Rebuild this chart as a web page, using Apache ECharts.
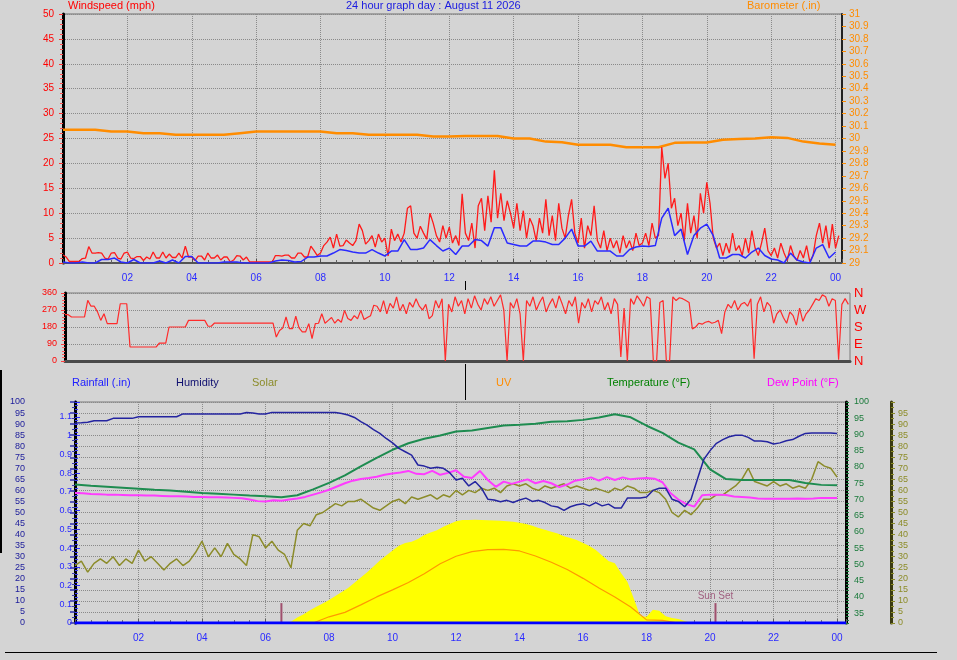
<!DOCTYPE html>
<html><head><meta charset="utf-8">
<script src="https://cdn.jsdelivr.net/npm/echarts/dist/echarts.min.js"></script>
<style>html,body{margin:0;padding:0;background:#d4d4d4;}#c{width:957px;height:660px;}</style>
</head><body><div id="c"></div>
<script>
// ---------- DATA ----------
// Top panel: wind speed (mph) and barometer (.in)
const gustStep = 0.1;
const windGust = [
 1.6,1.2,0.3,0.3,0.3,0.3,0.9,1.0,3.3,2.0,
 2.0,2.1,2.0,1.0,0.8,2.0,2.1,1.0,0.8,2.0,
 2.2,1.0,0.9,1.3,1.3,0.5,1.2,0.8,2.2,1.0,
 1.0,2.2,1.0,1.8,1.1,1.1,2.0,1.0,3.4,1.2,
 1.2,0.5,1.4,1.4,0.6,2.0,1.0,1.0,1.6,0.6,
 1.2,1.2,0.2,0.6,1.5,1.4,0.6,1.2,0.2,0.2,
 0.2,0.2,0.2,0.2,0.2,0.2,1.5,1.5,1.4,1.6,
 1.6,1.0,1.0,2.0,2.0,1.2,1.2,3.4,2.5,1.5,
 2.0,3.5,4.2,5.2,3.0,5.8,3.4,3.5,4.6,4.0,
 3.5,4.5,7.8,6.5,3.8,4.5,5.5,3.2,5.8,4.2,
 5.0,1.4,6.8,4.5,5.8,4.2,6.0,11.0,11.5,6.0,
 5.0,7.4,6.0,4.8,10.0,8.0,5.5,4.2,7.5,5.0,
 7.2,4.0,5.5,3.5,13.9,6.0,4.5,8.0,3.0,11.5,
 13.0,6.5,13.5,8.2,18.6,9.0,14.0,8.5,12.5,10.0,
 7.0,12.0,6.5,10.5,5.0,9.0,7.5,4.5,9.0,6.0,
 12.8,5.5,9.5,4.5,12.0,7.0,5.0,9.5,12.8,6.0,
 4.0,9.0,3.0,7.5,5.5,11.5,4.5,3.0,6.5,2.5,
 5.0,3.0,4.5,2.0,5.5,3.0,4.5,2.5,6.0,3.5,
 4.0,6.0,3.5,8.0,5.0,5.5,23.3,17.0,20.0,11.0,
 13.0,7.5,10.0,4.5,12.0,6.0,9.5,5.0,14.0,10.0,
 16.2,12.0,5.0,3.0,4.0,1.5,4.0,2.0,6.0,2.5,
 3.5,1.5,5.0,2.0,6.5,3.0,1.5,4.0,7.0,2.5,
 1.5,3.0,1.0,4.0,2.0,0.5,3.5,1.5,0.5,2.5,
 1.0,3.5,0.3,1.5,5.5,8.0,4.0,7.5,3.0,7.8,
 3.0,5.5
];
const avgStep = 0.2;
const windAvg = [
 0.2,0.0,0.0,0.2,0.0,0.0,0.7,0.7,1.0,0.2,
 0.0,0.7,0.0,0.0,0.0,0.4,0.0,0.6,0.0,1.3,
 1.3,0.0,0.0,0.0,0.0,0.2,0.2,0.2,0.0,0.0,
 0.0,0.0,0.0,0.4,0.6,0.5,0.2,0.3,1.2,1.2,
 1.4,1.4,2.0,2.7,2.5,2.2,2.0,2.0,2.7,2.0,
 1.4,2.4,2.4,4.7,2.7,2.7,3.0,4.7,3.5,2.4,
 3.0,1.7,3.4,3.4,4.7,4.5,3.4,7.1,7.1,4.0,
 3.7,3.4,3.4,4.4,4.4,4.2,3.7,3.7,5.0,6.8,
 3.4,3.4,4.4,2.4,2.4,2.4,1.4,1.4,2.7,3.2,
 3.4,3.3,3.5,9.0,11.0,5.5,6.8,1.7,5.5,7.0,
 7.8,5.5,1.0,1.0,1.7,1.7,1.0,2.2,3.0,1.5,
 0.8,0.6,0.0,2.0,0.6,0.2,0.0,3.0,3.7,1.0,
 2.2
];
const baroStep = 0.5;
const barometer = [
 30.07,30.07,30.07,30.056,30.056,30.043,30.043,30.03,30.03,30.03,
 30.03,30.043,30.056,30.056,30.056,30.056,30.056,30.043,30.043,30.03,
 30.03,30.03,30.03,30.016,30.016,30.02,30.02,30.02,30.0,30.0,
 29.975,29.97,29.95,29.95,29.95,29.93,29.93,29.93,29.965,29.968,
 29.968,29.99,29.995,30.0,30.01,30.005,29.975,29.96,29.95
];
// Middle panel: wind direction (degrees)
const dirStep = 0.1;
const windDir = [
 245,245,233,233,233,233,233,321,290,290,
 260,215,250,198,198,198,198,303,303,303,
 74,74,74,74,74,74,74,74,74,95,
 95,95,180,180,180,180,180,180,215,215,
 215,215,215,215,184,184,201,201,201,201,
 201,201,201,201,201,201,201,201,201,201,
 201,201,201,201,201,127,162,175,233,171,
 171,237,175,154,154,198,118,198,200,250,
 200,215,230,200,220,205,268,225,215,240,
 224,268,220,230,240,295,290,260,320,250,
 305,280,339,265,300,250,310,285,330,290,
 270,300,224,240,320,280,330,0,300,260,
 340,290,320,250,330,280,345,300,270,330,
 300,340,290,320,350,270,0,310,280,330,
 250,0,320,290,340,270,310,340,260,300,
 330,280,345,300,250,320,290,340,200,310,
 280,330,260,320,300,340,270,310,250,330,
 300,21,280,0,330,300,345,320,290,340,
 330,0,0,310,320,0,0,340,320,335,
 330,320,310,170,180,200,195,205,210,200,
 205,215,145,260,300,280,320,270,300,310,
 290,330,12,300,340,260,310,290,200,250,
 270,230,200,260,240,190,280,210,250,270,
 300,330,320,350,340,290,330,320,7,300,
 330,300
];
const compassLabels = {0:'N', 90:'E', 180:'S', 270:'W', 360:'N'};
// Bottom panel
const humStep = 0.2;
const humidity = [
 90.5,90.6,90.8,91.5,91.5, 91.5,92.6,92.6,92.6,92.6,
 93.3,93.3,93.3,93.3,93.3, 93.3,93.3,94.6,94.6,94.6,
 94.6,94.6,94.6,94.6,94.6, 94.6,94.6,95.2,95.0,94.6,
 94.6,95.3,95.3,95.3,95.3, 95.3,95.3,95.3,95.3,95.3,
 95.3,95.3,94.8,94.1,93.0, 91.1,89.5,87.5,85.8,83.5,
 81.5,79.0,77.5,76.0,71.5, 71.0,70.0,70.5,70.0,68.0,
 64.7,65.5,62.0,64.0,61.0, 56.0,55.7,54.9,55.5,54.5,
 55.7,56.5,55.0,55.5,54.5, 53.0,52.5,51.0,52.6,53.5,
 54.0,53.0,54.5,53.0,53.8, 52.0,52.0,56.6,56.6,56.6,
 57.0,60.0,61.0,61.0,56.0, 55.0,52.6,56.0,65.0,74.0,
 78.0,81.3,83.0,84.3,85.0, 85.0,84.0,82.3,82.3,82.0,
 81.0,81.5,82.5,83.0,84.5, 85.8,86.0,86.0,86.0,86.0,
 85.8
];
const tempStep = 0.5;
const temperature = [
 74.6,74.2,73.9,73.6,73.3,73.0,72.8,72.4,72.0,71.8,
 71.5,71.2,71.0,70.7,71.3,73.1,75.1,77.4,80.2,82.8,
 85.3,87.3,88.7,89.7,90.9,91.2,92.0,92.8,93.0,93.3,
 93.9,94.1,94.5,95.2,96.2,95.3,92.7,90.5,87.5,85.4,
 79.3,76.3,76.0,76.0,76.0,76.0,75.1,74.5,74.4
];
const dewStep = 0.25;
const dewPoint = [
 72.0,71.9,71.7,71.6, 71.5,71.5,71.4,71.3, 71.3,71.2,71.2,71.1, 71.0,71.0,70.9,70.8,
 70.8,70.7,70.7,70.6, 70.5,70.4,70.0,69.5, 69.4,69.8,69.6,70.0, 70.3,70.8,71.5,72.2,
 73.0,74.0,75.0,75.8, 76.3,76.6,77.0,77.6, 78.0,78.3,78.8,77.9, 77.8,78.8,77.6,78.2,
 79.0,77.0,76.6,78.8, 76.0,73.9,75.5,74.8, 75.5,76.2,75.0,75.7, 75.0,73.8,74.6,75.8,
 76.2,76.8,75.8,76.9, 76.0,76.8,76.2,76.5, 76.6,76.4,75.3,72.0, 70.0,68.6,67.8,71.3,
 71.5,71.5,71.4,70.9, 70.8,70.6,70.3,70.2, 70.2,70.2,70.2,70.3, 70.2,70.3,70.5,70.5,
 70.5
];
const solarLineStep = 0.2;
const solarLine = [
 26,28,23,27,29, 27,30,26,29,27, 33,28,30,27,24, 27,29,26,28,32,
 37,30,34,30,36, 31,29,26,40,39, 34,37,33,31,25, 42,45,44,49,50,
 52,54,53,55,55, 56,54,52,51,53, 55,56,54,57,56, 57,58,56,58,57,
 60,58,60,59,61, 60,61,59,62,63, 62,63,61,60,62, 61,62,63,61,62,
 61,60,61,60,59, 61,60,62,61,59, 59,60,59,56,50, 48,51,49,52,56,
 56,58,58,60,62, 65,70,64,63,62, 64,62,63,61,62, 61,65,73,71,70,
 66
];
const solarRadStep = 0.2; // W/m2
const solarRad = [
 0,0,0,0,0, 0,0,0,0,0, 0,0,0,0,0, 0,0,0,0,0, 0,0,0,0,0, 0,0,0,0,0,
 0,0,0,0,6, 25,40,58,73,88, 104,122,140,158,182, 206,230,256,283,305,
 328,350,362,368,380, 398,410,420,435,448, 460,466,466,467,466, 465,464,463,460,458,
 454,448,440,430,422, 413,405,393,385,376, 362,348,330,305,280, 270,225,185,110,30,
 28,60,55,30,23, 18,9,0,0,0, 0,0,0,0,0, 0,0,0,0,0, 0,0,0,0,0, 0,0,0,0,0,
 0
];
const uvStep = 0.5;
const uvIndex = [
 0,0,0,0,0,0,0,0,0,0,0,0,0,0,0,0,
 0.28,0.48,0.82,1.18,1.5,1.83,2.23,2.68,3.02,3.23,3.32,3.33,3.26,3.03,2.75,2.42,
 2.02,1.58,1.18,0.72,0.14,0.12,0,
 0,0,0,0,0,0,0,0,0,0
];
const rainTimes = [0, 24.28];
const rainfall = [0, 0];
const sunEvents = [
 {time: 6.5, name: ''},
 {time: 20.17, name: 'Sun Set'}
];
const sunMarkerHeight = 9;

// ---------- HELPERS ----------
const toPairs = (arr, step) => arr.map((v, i) => [Math.round(i * step * 1000) / 1000, v]);
const hourFmt = v => {
  const r = Math.round(v);
  if (Math.abs(v - r) > 1e-6 || r <= 0 || r % 2) return '';
  return String(r % 24).padStart(2, '0');
};
const FONT = 'Liberation Sans, Arial, sans-serif';
const dotted = {show: true, lineStyle: {color: '#8a8a8a', type: 'dotted', width: 1}};

const chart = echarts.init(document.getElementById('c'));
const option = {
  animation: false,
  backgroundColor: '#d4d4d4',
  textStyle: {fontFamily: FONT},
  grid: [
    {left: 63, top: 14, width: 779, height: 249, show: true, borderColor: '#6e6e6e', borderWidth: 1},
    {left: 65, top: 293, width: 785, height: 68, show: true, borderColor: '#7a7a7a', borderWidth: 1},
    {left: 75, top: 402, width: 771, height: 221, show: true, borderColor: '#7a7a7a', borderWidth: 1}
  ],
  xAxis: [
    {gridIndex: 0, type: 'value', min: 0, max: 24.2, interval: 2, offset: 2,
     axisLine: {show: true, lineStyle: {color: '#555', width: 2}},
     axisTick: {show: true, inside: true, length: 4, lineStyle: {color: '#505050'}},
     minorTick: {show: true, splitNumber: 4, length: 3, lineStyle: {color: '#606060'}},
     axisLabel: {color: '#2a2aff', fontSize: 10, margin: 8, formatter: hourFmt},
     splitLine: dotted},
    {gridIndex: 1, type: 'value', min: 0, max: 24.15,
     axisLine: {show: true, lineStyle: {color: '#4a4a4a', width: 3}},
     axisTick: {show: false}, axisLabel: {show: false}, splitLine: {show: false}},
    {gridIndex: 2, type: 'value', min: 0, max: 24.28, interval: 2, offset: 3,
     axisLine: {show: true, lineStyle: {color: '#7a7a7a', width: 1}},
     axisTick: {show: true, inside: true, length: 4, lineStyle: {color: '#606060'}},
     minorTick: {show: true, splitNumber: 4, length: 3, lineStyle: {color: '#707070'}},
     axisLabel: {color: '#2a2aff', fontSize: 10, margin: 7, formatter: hourFmt},
     splitLine: dotted}
  ],
  yAxis: [
    // 0 windspeed
    {gridIndex: 0, type: 'value', position: 'left', min: 0, max: 50, interval: 5,
     axisLine: {show: true, lineStyle: {color: '#000', width: 3}},
     axisTick: {show: true, length: 4, lineStyle: {color: '#ff3030'}},
     minorTick: {show: true, splitNumber: 5, length: 3, lineStyle: {color: '#ff5050'}},
     axisLabel: {color: '#ff0000', fontSize: 10, margin: 9},
     splitLine: dotted},
    // 1 barometer
    {gridIndex: 0, type: 'value', position: 'right', min: 29, max: 31, interval: 0.1,
     axisLine: {show: true, lineStyle: {color: '#222', width: 2}},
     axisTick: {show: true, length: 4, lineStyle: {color: '#ff8c00'}},
     axisLabel: {color: '#ff8c00', fontSize: 10, margin: 7,
       formatter: v => String(Math.round(v * 10) / 10)},
     splitLine: {show: false}},
    // 2 wind direction
    {gridIndex: 1, type: 'value', position: 'left', min: 0, max: 360, interval: 90,
     axisLine: {show: true, lineStyle: {color: '#000', width: 3}},
     axisTick: {show: true, length: 4, lineStyle: {color: '#ff4040'}},
     minorTick: {show: true, splitNumber: 5, length: 3, lineStyle: {color: '#ff6060'}},
     axisLabel: {color: '#ff0000', fontSize: 9, margin: 8},
     splitLine: dotted},
    // 3 compass
    {gridIndex: 1, type: 'value', position: 'right', min: 0, max: 360, interval: 90,
     axisLine: {show: false}, axisTick: {show: false}, splitLine: {show: false},
     axisLabel: {color: '#ff0000', fontSize: 13, margin: 4,
       formatter: v => compassLabels[Math.round(v)] || ''}},
    // 4 humidity
    {gridIndex: 2, type: 'value', position: 'left', offset: 42, min: 0, max: 100, interval: 5,
     axisLine: {show: true, lineStyle: {color: '#2424a8', width: 3}},
     axisTick: {show: true, length: 5, lineStyle: {color: '#3030b0', width: 1.5}},
     minorTick: {show: true, splitNumber: 2, length: 3, lineStyle: {color: '#4040b8'}},
     axisLabel: {color: '#1a1a9a', fontSize: 9, margin: 8},
     splitLine: dotted},
    // 5 rainfall
    {gridIndex: 2, type: 'value', position: 'left', min: 0, max: 1.18, interval: 0.1,
     axisLine: {show: true, lineStyle: {color: '#000', width: 3}},
     axisTick: {show: true, inside: true, length: 5, lineStyle: {color: '#3030ff'}},
     minorTick: {show: true, splitNumber: 5, length: 3, lineStyle: {color: '#4040ff'}},
     axisLabel: {color: '#2828ff', fontSize: 9, margin: 3,
       formatter: v => v > 1.15 ? '' : String(Math.round(v * 10) / 10)},
     splitLine: {show: false}},
    // 6 temperature / dew point
    {gridIndex: 2, type: 'value', position: 'right', min: 32, max: 100, interval: 1,
     axisLine: {show: true, lineStyle: {color: '#000', width: 3}},
     axisTick: {show: true, length: 3, lineStyle: {color: '#1a7a3a'}},
     axisLabel: {color: '#1a7a3a', fontSize: 9, margin: 8,
       formatter: v => (Math.round(v) % 5 === 0) ? String(Math.round(v)) : ''},
     splitLine: {show: false}},
    // 7 solar (line)
    {gridIndex: 2, type: 'value', position: 'right', offset: 45, min: 0, max: 100, interval: 5,
     axisLine: {show: true, lineStyle: {color: '#3a3a10', width: 3}},
     axisTick: {show: true, length: 4, lineStyle: {color: '#8c8c28'}},
     minorTick: {show: true, splitNumber: 2, length: 3, lineStyle: {color: '#8c8c28'}},
     axisLabel: {color: '#8c8c28', fontSize: 9, margin: 7, formatter: v => v >= 100 ? '' : String(v)},
     splitLine: {show: false}},
    // 8 solar radiation (hidden)
    {gridIndex: 2, type: 'value', min: 0, max: 1000, show: false},
    // 9 UV (hidden)
    {gridIndex: 2, type: 'value', min: 0, max: 10, show: false}
  ],
  series: [
    {name: 'Barometer', type: 'line', xAxisIndex: 0, yAxisIndex: 1, data: toPairs(barometer, baroStep),
     symbol: 'none', lineStyle: {color: '#ff8c00', width: 2.5}},
    {name: 'Gust', type: 'line', xAxisIndex: 0, yAxisIndex: 0, data: toPairs(windGust, gustStep),
     symbol: 'none', lineStyle: {color: '#ff1a1a', width: 1.3}},
    {name: 'Wind', type: 'line', xAxisIndex: 0, yAxisIndex: 0, data: toPairs(windAvg, avgStep),
     symbol: 'none', lineStyle: {color: '#2a2aff', width: 1.5}},
    {name: 'Direction', type: 'line', xAxisIndex: 1, yAxisIndex: 2, data: toPairs(windDir, dirStep),
     symbol: 'none', lineStyle: {color: '#ff2a2a', width: 1.2}},
    {name: 'Solar radiation', type: 'line', xAxisIndex: 2, yAxisIndex: 8, data: toPairs(solarRad, solarRadStep),
     symbol: 'none', lineStyle: {width: 0, color: '#ffff00'}, areaStyle: {color: '#ffff00', opacity: 1}},
    {name: 'UV', type: 'line', xAxisIndex: 2, yAxisIndex: 9, data: toPairs(uvIndex, uvStep),
     symbol: 'none', lineStyle: {color: '#ff9900', width: 1.2}},
    {name: 'Solar', type: 'line', xAxisIndex: 2, yAxisIndex: 7, data: toPairs(solarLine, solarLineStep),
     symbol: 'none', lineStyle: {color: '#8c8c2a', width: 1.5}},
    {name: 'Dew Point', type: 'line', xAxisIndex: 2, yAxisIndex: 6, data: toPairs(dewPoint, dewStep),
     symbol: 'none', lineStyle: {color: '#ff3cff', width: 2}},
    {name: 'Temperature', type: 'line', xAxisIndex: 2, yAxisIndex: 6, data: toPairs(temperature, tempStep),
     symbol: 'none', lineStyle: {color: '#1e8c50', width: 2}},
    {name: 'Humidity', type: 'line', xAxisIndex: 2, yAxisIndex: 4, data: toPairs(humidity, humStep),
     symbol: 'none', lineStyle: {color: '#2424a0', width: 1.5}},
    {name: 'Rainfall', type: 'line', xAxisIndex: 2, yAxisIndex: 5,
     data: rainTimes.map((t, i) => [t, rainfall[i]]),
     symbol: 'none', lineStyle: {color: '#0000ff', width: 3}},
    {name: 'Sun', type: 'bar', xAxisIndex: 2, yAxisIndex: 4, barWidth: 2,
     itemStyle: {color: '#a0506e'},
     data: sunEvents.map(e => ({value: [e.time, sunMarkerHeight],
       label: {show: !!e.name, position: 'top', distance: 2, formatter: e.name, color: '#a06080', fontSize: 10}}))}
  ],
  graphic: [
    {type: 'text', left: 68, top: 0, style: {text: 'Windspeed (mph)', fill: '#ff0000', font: '11px ' + FONT}},
    {type: 'text', left: 346, top: 0, style: {text: '24 hour graph day : August 11 2026', fill: '#1a1ae0', font: '11px ' + FONT}},
    {type: 'text', left: 747, top: 0, style: {text: 'Barometer (.in)', fill: '#ff8c00', font: '11px ' + FONT}},
    {type: 'text', left: 72, top: 377, style: {text: 'Rainfall (.in)', fill: '#2020ff', font: '11px ' + FONT}},
    {type: 'text', left: 176, top: 377, style: {text: 'Humidity', fill: '#101070', font: '11px ' + FONT}},
    {type: 'text', left: 252, top: 377, style: {text: 'Solar', fill: '#8c8c2a', font: '11px ' + FONT}},
    {type: 'text', left: 496, top: 377, style: {text: 'UV', fill: '#ff8c00', font: '11px ' + FONT}},
    {type: 'text', left: 607, top: 377, style: {text: 'Temperature (°F)', fill: '#008000', font: '11px ' + FONT}},
    {type: 'text', left: 767, top: 377, style: {text: 'Dew Point (°F)', fill: '#ff00ff', font: '11px ' + FONT}},
    {type: 'line', shape: {x1: 465.5, y1: 281, x2: 465.5, y2: 290}, style: {stroke: '#000', lineWidth: 1}},
    {type: 'line', shape: {x1: 465.5, y1: 364, x2: 465.5, y2: 400}, style: {stroke: '#000', lineWidth: 1}},
    {type: 'line', shape: {x1: 5, y1: 652.5, x2: 937, y2: 652.5}, style: {stroke: '#000', lineWidth: 1}},
    {type: 'line', shape: {x1: 1, y1: 370, x2: 1, y2: 553}, style: {stroke: '#000', lineWidth: 2}}
  ]
};
chart.setOption(option);
</script></body></html>
